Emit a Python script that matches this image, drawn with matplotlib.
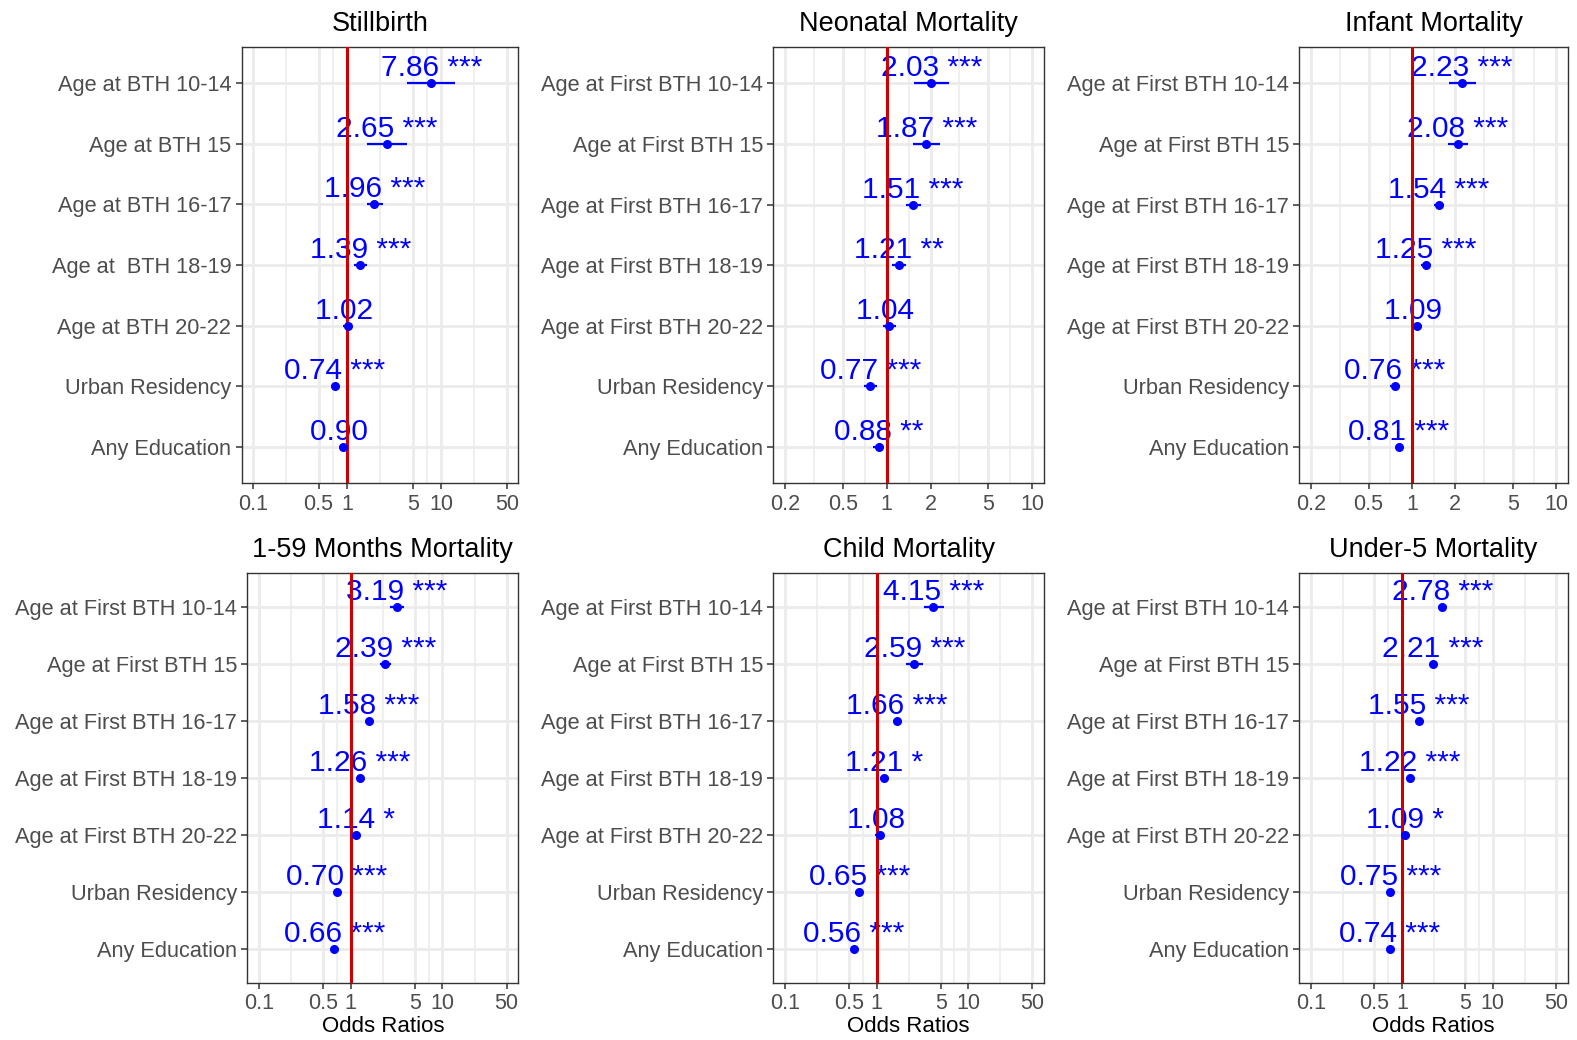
import numpy as np
import matplotlib
matplotlib.use("Agg")
import matplotlib.pyplot as plt

plt.rcParams['font.family'] = ['Liberation Sans', 'DejaVu Sans']

# ---------------- data ----------------
labels_sb = ["Age at BTH 10-14", "Age at BTH 15", "Age at BTH 16-17", "Age at  BTH 18-19",
             "Age at BTH 20-22", "Urban Residency", "Any Education"]
labels_first = ["Age at First BTH 10-14", "Age at First BTH 15", "Age at First BTH 16-17",
                "Age at First BTH 18-19", "Age at First BTH 20-22", "Urban Residency", "Any Education"]

titles = ["Stillbirth", "Neonatal Mortality", "Infant Mortality",
          "1-59 Months Mortality", "Child Mortality", "Under-5 Mortality"]

sb_or = [7.86, 2.65, 1.96, 1.39, 1.02, 0.74, 0.90]
sb_lo = [4.35, 1.63, 1.63, 1.18, 0.90, 0.68, 0.82]
sb_hi = [14.2, 4.35, 2.40, 1.62, 1.14, 0.82, 1.00]
sb_sig = ["***", "***", "***", "***", "", "***", ""]

neo_or = [2.03, 1.87, 1.51, 1.21, 1.04, 0.77, 0.88]
neo_lo = [1.54, 1.52, 1.35, 1.08, 0.94, 0.70, 0.81]
neo_hi = [2.68, 2.32, 1.72, 1.36, 1.15, 0.85, 0.96]
neo_sig = ["***", "***", "***", "**", "", "***", "**"]

inf_or = [2.23, 2.08, 1.54, 1.25, 1.09, 0.76, 0.81]
inf_lo = [1.80, 1.78, 1.43, 1.15, 1.01, 0.71, 0.77]
inf_hi = [2.78, 2.45, 1.66, 1.36, 1.18, 0.82, 0.86]
inf_sig = ["***", "***", "***", "***", "", "***", "***"]

m159_or = [3.19, 2.39, 1.58, 1.26, 1.14, 0.70, 0.66]
m159_lo = [2.70, 2.08, 1.47, 1.17, 1.05, 0.66, 0.62]
m159_hi = [3.80, 2.76, 1.72, 1.36, 1.23, 0.75, 0.70]
m159_sig = ["***", "***", "***", "***", "*", "***", "***"]

ch_or = [4.15, 2.59, 1.66, 1.21, 1.08, 0.65, 0.56]
ch_lo = [3.25, 2.10, 1.50, 1.08, 0.97, 0.60, 0.52]
ch_hi = [5.40, 3.20, 1.85, 1.36, 1.20, 0.71, 0.60]
ch_sig = ["***", "***", "***", "*", "", "***", "***"]

u5_or = [2.78, 2.21, 1.55, 1.22, 1.09, 0.75, 0.74]
u5_lo = [2.50, 2.05, 1.48, 1.16, 1.03, 0.72, 0.71]
u5_hi = [3.10, 2.38, 1.63, 1.28, 1.15, 0.78, 0.77]
u5_sig = ["***", "***", "***", "***", "*", "***", "***"]

breaks_wide = [0.1, 0.5, 1, 5, 10, 50]
breaks_wide_lab = ["0.1", "0.5", "1", "5", "10", "50"]
breaks_narrow = [0.2, 0.5, 1, 2, 5, 10]
breaks_narrow_lab = ["0.2", "0.5", "1", "2", "5", "10"]

# ---------------- layout ----------------
W, H = 1577, 1040
fig = plt.figure(figsize=(W / 100, H / 100), dpi=100)

# panel rectangles in pixels (left, right, top, bottom)
rects = [(241.7, 518.0, 46.7, 483.3), (773.3, 1044.0, 47.0, 483.3), (1299.3, 1568.0, 47.0, 483.3),
         (247.3, 518.3, 572.7, 982.7), (773.3, 1044.0, 572.7, 982.7), (1299.3, 1568.0, 572.7, 982.7)]

panels = [
    (labels_sb, sb_or, sb_lo, sb_hi, sb_sig, breaks_wide, breaks_wide_lab, 0.118),
    (labels_first, neo_or, neo_lo, neo_hi, neo_sig, breaks_narrow, breaks_narrow_lab, 0.082),
    (labels_first, inf_or, inf_lo, inf_hi, inf_sig, breaks_narrow, breaks_narrow_lab, 0.082),
    (labels_first, m159_or, m159_lo, m159_hi, m159_sig, breaks_wide, breaks_wide_lab, 0.127),
    (labels_first, ch_or, ch_lo, ch_hi, ch_sig, breaks_wide, breaks_wide_lab, 0.127),
    (labels_first, u5_or, u5_lo, u5_hi, u5_sig, breaks_wide, breaks_wide_lab, 0.127),
]

for i, (rect, pan, title) in enumerate(zip(rects, panels, titles)):
    labs, orv, lo, hi, sig, brk, brk_lab, expd = pan
    l, r, t, b = rect
    ax = fig.add_axes([l / W, 1 - b / H, (r - l) / W, (b - t) / H])
    ax.set_xscale('log')
    lb = np.log10(brk)
    ax.set_xlim(10 ** (lb[0] - expd), 10 ** (lb[-1] + expd))
    n = len(labs)
    ypos = np.arange(n, 0, -1)
    ax.set_ylim(0.4, n + 0.6)

    # grid
    minor = 10 ** ((lb[:-1] + lb[1:]) / 2)
    for m in minor:
        ax.axvline(m, color='#EBEBEB', lw=1.1, zorder=0)
    for mj in brk:
        ax.axvline(mj, color='#EBEBEB', lw=2.0, zorder=0)
    for y in ypos:
        ax.axhline(y, color='#EBEBEB', lw=2.0, zorder=0)

    # marks
    ax.hlines(ypos, lo, hi, color='blue', lw=1.6, zorder=4)
    ax.plot(orv, ypos, 'o', color='blue', ms=5.5, zorder=5)
    ax.axvline(1, color='#CC0000', lw=2.2, zorder=3)
    for x, y, s in zip(orv, ypos, sig):
        ax.annotate(f"{x:.2f} {s}", (x, y), xytext=(0, 5), textcoords='offset points',
                    ha='center', va='baseline', color='blue', fontsize=21.5, zorder=2)

    ax.set_xticks(brk)
    ax.set_xticklabels(brk_lab)
    ax.xaxis.set_minor_locator(matplotlib.ticker.NullLocator())
    ax.set_yticks(ypos)
    ax.set_yticklabels(labs)
    ax.tick_params(axis='both', which='major', length=4, width=1.1, color='#333333',
                   labelcolor='#4D4D4D', pad=3.5)
    ax.tick_params(axis='y', labelsize=15.7)
    ax.tick_params(axis='x', labelsize=15.5)
    for sp in ax.spines.values():
        sp.set_color('#333333')
        sp.set_linewidth(1.0)
    ax.set_title(title, fontsize=19.5, color='black', pad=11.5)
    if i >= 3:
        ax.set_xlabel("Odds Ratios", fontsize=16, color='black')
        ax.xaxis.set_label_coords(0.5, -(1032 - b) / (b - t))
        ax.xaxis.label.set_va('baseline')

fig.savefig("out.png", dpi=100)
